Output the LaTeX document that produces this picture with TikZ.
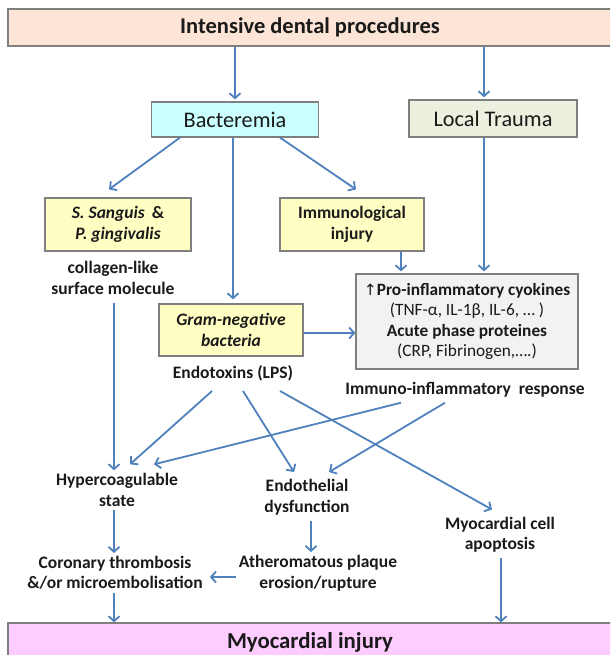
\documentclass[tikz,border=0pt]{standalone}
\usepackage{fontspec}
\setmainfont{Carlito}
\newfontfamily\symfont{DejaVu Sans}
\usetikzlibrary{arrows.meta}
\definecolor{arrowblue}{HTML}{4F81BD}
\definecolor{boxgray}{HTML}{7F7F7F}
\definecolor{txt}{HTML}{1A1A1A}
\definecolor{peach}{HTML}{FCE4D6}
\definecolor{cyanfill}{HTML}{CCFFFF}
\definecolor{olivefill}{HTML}{EBF1DE}
\definecolor{yellowfill}{HTML}{FFFFC4}
\definecolor{grayfill}{HTML}{F2F2F2}
\definecolor{pinkfill}{HTML}{FFCCFF}
\tikzset{
  box/.style={draw=boxgray, line width=1.2pt, text=txt, align=center, inner sep=2pt},
  lbl/.style={text=txt, align=center, inner sep=1pt, font=\bfseries\fontsize{17.5}{20.5}\selectfont},
  bodyfont/.style={font=\bfseries\fontsize{17.5}{20.5}\selectfont},
  arr/.style={draw=arrowblue, line width=1.8pt, -{Straight Barb[length=5pt,width=11pt,line width=1.8pt]}},
}
\begin{document}
\begin{tikzpicture}[x=1pt,y=-1pt]
\clip (0,0) rectangle (610,655);
\fill[white] (0,0) rectangle (610,655);

% boxes
\node[box, fill=peach, minimum width=604pt, minimum height=37pt, font=\bfseries\fontsize{22.5}{26}\selectfont] (top) at (310,27.5) {Intensive dental procedures};
\node[box, fill=cyanfill, minimum width=167pt, minimum height=35pt, font=\fontsize{22.3}{26}\selectfont] (bact) at (235,119.5) {Bacteremia};
\node[box, fill=olivefill, minimum width=168pt, minimum height=37pt, font=\fontsize{22.3}{26}\selectfont] (trauma) at (493,118.5) {Local Trauma};
\node[box, fill=yellowfill, minimum width=146pt, minimum height=53pt, bodyfont] (ssang) at (118,224.5) {\textit{S. Sanguis} \,\&\\\textit{P. gingivalis}};
\node[box, fill=yellowfill, minimum width=144pt, minimum height=53pt, bodyfont] (immu) at (352,224.5) {Immunological\\injury};
\node[box, fill=yellowfill, minimum width=144pt, minimum height=52pt, bodyfont] (gram) at (231,330) {\textit{Gram-negative}\\\textit{bacteria}};
\node[box, fill=grayfill, minimum width=222pt, minimum height=95pt, font=\fontsize{17.3}{20.5}\selectfont] (pro) at (467,321.5)
  {{\symfont\fontsize{15.5}{17}\selectfont ↑}\textbf{Pro-inflammatory cyokines}\\(TNF-α, IL-1β, IL-6, … )\\\textbf{Acute phase proteines}\\(CRP, Fibrinogen,….)};
\node[box, fill=pinkfill, minimum width=604pt, minimum height=38pt, font=\bfseries\fontsize{22.8}{26}\selectfont] (myoinj) at (310,642) {Myocardial injury};

% labels
\node[lbl] (collagen) at (113,278) {collagen-like\\surface molecule};
\node[lbl] (endo) at (233,373) {Endotoxins (LPS)};
\node[lbl] (immresp) at (465,390) {Immuno-inflammatory\ \ response};
\node[lbl] (hyper) at (117,490) {Hypercoagulable\\state};
\node[lbl] (endoth) at (307,497) {Endothelial\\dysfunction};
\node[lbl] (apop) at (500,534.5) {Myocardial cell\\apoptosis};
\node[lbl] (coron) at (115,573) {Coronary thrombosis\\\&/or microembolisation};
\node[lbl] (ather) at (318,573) {Atheromatous plaque\\erosion/rupture};

% connectors
\draw[arr] (top.south -| bact.north) -- ([yshift=2pt]bact.north);
\draw[arr] ([xshift=-9pt]top.south -| trauma.north) -- ([xshift=-9pt,yshift=2pt]trauma.north);
\draw[arr] ([xshift=-55pt]bact.south) -- ([xshift=-9pt,yshift=8pt]ssang.north);
\draw[arr] ([xshift=45pt]bact.south) -- ([xshift=4pt,yshift=8pt]immu.north);
\draw[arr] ([xshift=-2pt]bact.south) -- ([xshift=2pt,yshift=4pt]gram.north);
\draw[arr] ([xshift=-9pt]trauma.south) -- ([xshift=17pt,yshift=2pt]pro.north);
\draw[arr] ([xshift=49pt]immu.south) -- ([xshift=-66pt,yshift=2pt]pro.north);
\draw[arr] ([yshift=-3pt]gram.east) -- ([yshift=-3pt]gram.east -| pro.west);
\draw[arr] ([xshift=1pt,yshift=-7pt]collagen.south) -- ([xshift=-3pt,yshift=2pt]hyper.north);
\draw[arr] ([xshift=-21pt,yshift=-9pt]endo.south) -- ([xshift=13pt,yshift=8pt]hyper.north);
\draw[arr] ([xshift=10pt,yshift=-9pt]endo.south) -- ([xshift=-13pt,yshift=6pt]endoth.north);
\draw[arr] ([xshift=47pt,yshift=-9pt]endo.south) -- ([xshift=-8pt,yshift=6pt]apop.north);
\draw[arr] ([xshift=-64pt,yshift=-4pt]immresp.south) -- ([xshift=37pt,yshift=8pt]hyper.north);
\draw[arr] ([xshift=-20pt,yshift=-4pt]immresp.south) -- ([xshift=22pt,yshift=6pt]endoth.north);
\draw[arr] ([xshift=-3pt,yshift=-2pt]hyper.south) -- ([xshift=-1pt,yshift=2pt]coron.north);
\draw[arr] ([xshift=4pt,yshift=-5pt]endoth.south) -- ([xshift=-7pt,yshift=2pt]ather.north);
\draw[arr] ([xshift=-2pt,yshift=-4pt]ather.west) -- ([xshift=6pt,yshift=-4pt]coron.east);
\draw[arr] ([xshift=-1pt,yshift=-2pt]coron.south) -- ([xshift=-1pt]coron.south |- myoinj.north);
\draw[arr] ([xshift=1pt,yshift=-5pt]apop.south) -- ([xshift=1pt]apop.south |- myoinj.north);
\end{tikzpicture}
\end{document}
